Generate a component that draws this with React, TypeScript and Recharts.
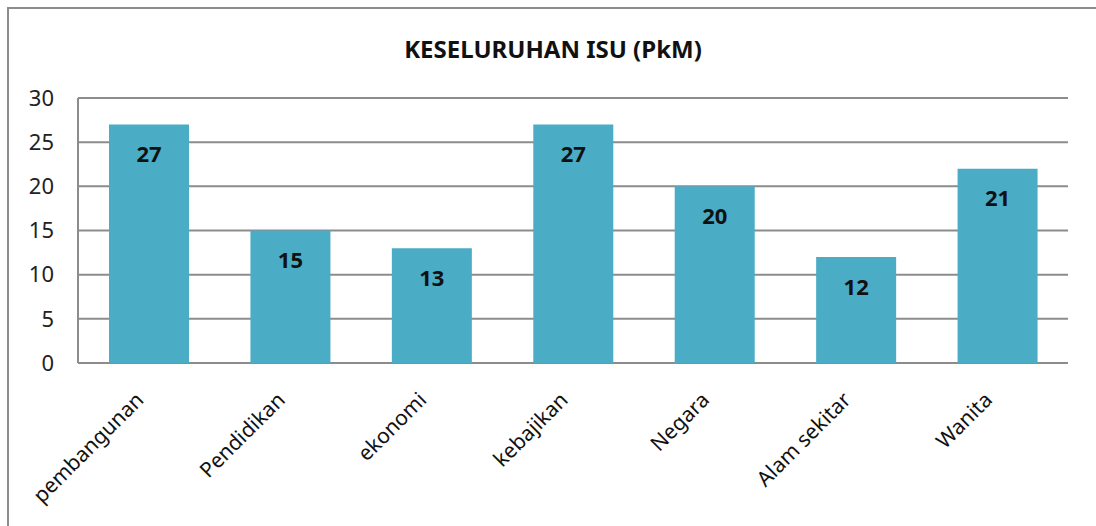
import { Bar, BarChart, CartesianGrid, LabelList, XAxis, YAxis } from "recharts";

const categories = [
  "pembangunan",
  "Pendidikan",
  "ekonomi",
  "kebajikan",
  "Negara",
  "Alam sekitar",
  "Wanita",
];
// bar heights as drawn
const values = [27, 15, 13, 27, 20, 12, 22];
// numbers printed on the bars (the last one reads 21 on the original)
const valueLabels = ["27", "15", "13", "27", "20", "12", "21"];
const yTicks = [0, 5, 10, 15, 20, 25, 30];

const FONT = "'Noto Sans', 'Open Sans', sans-serif";
const GRID = "#8c8c8c";
const BAR = "#4BACC6";

const data = categories.map((name, i) => ({ name, value: values[i], label: valueLabels[i] }));

function YTick({ x, y, payload }: any) {
  return (
    <text x={x} y={y} dy="0.35em" textAnchor="end" fontSize={22} fill="#222" fontFamily={FONT}>
      {payload.value}
    </text>
  );
}

function XTick({ x, y, payload }: any) {
  return (
    <g transform={`translate(${x - 9},${y + 25})`}>
      <text
        x={0}
        y={0}
        dy="0.35em"
        textAnchor="end"
        transform="rotate(-45)"
        fontSize={21}
        fill="#111"
        fontFamily={FONT}
      >
        {payload.value}
      </text>
    </g>
  );
}

function ValueLabel({ x, y, width, index }: any) {
  return (
    <text
      x={x + width / 2}
      y={y + 30}
      dy="0.35em"
      textAnchor="middle"
      fontSize={22}
      fontWeight="bold"
      fill="#111"
      fontFamily={FONT}
    >
      {valueLabels[index]}
    </text>
  );
}

export default function App() {
  return (
    <div
      style={{
        position: "absolute",
        left: 0,
        top: 0,
        width: 1096,
        height: 526,
        overflow: "hidden",
        background: "#fff",
      }}
    >
      <div
        style={{
          position: "absolute",
          left: 7,
          top: 7,
          width: 1200,
          height: 700,
          borderLeft: `2px solid ${GRID}`,
          borderTop: `2px solid ${GRID}`,
        }}
      />
      <div
        style={{
          position: "absolute",
          top: 33,
          left: 0,
          width: 1106,
          textAlign: "center",
          fontFamily: FONT,
          fontWeight: "bold",
          fontSize: 24,
          lineHeight: "32px",
          color: "#111",
        }}
      >
        KESELURUHAN ISU (PkM)
      </div>
      <div style={{ position: "absolute", left: 0, top: 0 }}>
        <BarChart
          width={1096}
          height={526}
          data={data}
          margin={{ top: 98, right: 28, bottom: 0, left: 0 }}
        >
          <CartesianGrid vertical={false} stroke={GRID} strokeWidth={2} />
          <XAxis
            dataKey="name"
            height={163}
            axisLine={false}
            tickLine={false}
            interval={0}
            tick={<XTick />}
          />
          <YAxis
            width={78}
            domain={[0, 30]}
            ticks={yTicks}
            axisLine={{ stroke: GRID, strokeWidth: 2 }}
            tickLine={false}
            tickSize={0}
            tickMargin={24}
            tick={<YTick />}
          />
          <Bar dataKey="value" fill={BAR} barSize={80} isAnimationActive={false}>
            <LabelList dataKey="label" content={<ValueLabel />} />
          </Bar>
        </BarChart>
      </div>
    </div>
  );
}
